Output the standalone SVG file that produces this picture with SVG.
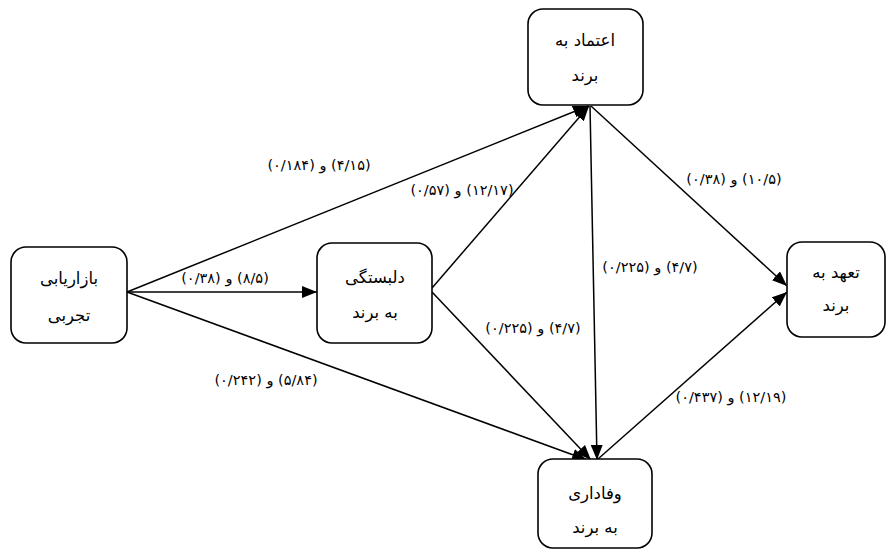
<svg xmlns="http://www.w3.org/2000/svg" width="892" height="551" viewBox="0 0 892 551">
<style>
.box{fill:#fff;stroke:#000;stroke-width:1.6}
.nt{font-family:"DejaVu Sans",sans-serif;font-size:16.5px;fill:#000;text-anchor:middle;direction:rtl}
.lb{font-family:"DejaVu Sans",sans-serif;font-size:14.5px;fill:#000;text-anchor:middle;direction:rtl}
.ln{stroke:#000;stroke-width:1.5;fill:none}
</style>
<defs>
<marker id="arr" markerUnits="userSpaceOnUse" markerWidth="15" markerHeight="12" refX="15" refY="6" orient="auto">
<path d="M0,0 L15,6 L0,12 z" fill="#000"/>
</marker>
</defs>
<rect width="892" height="551" fill="#fff"/>
<g id="connectors">
<line class="ln" x1="127" y1="292" x2="317" y2="292" marker-end="url(#arr)"/>
<line class="ln" x1="127" y1="292" x2="588" y2="106" marker-end="url(#arr)"/>
<line class="ln" x1="127" y1="292" x2="587" y2="460" marker-end="url(#arr)"/>
<line class="ln" x1="432" y1="288" x2="589" y2="106" marker-end="url(#arr)"/>
<line class="ln" x1="432" y1="292" x2="591" y2="460" marker-end="url(#arr)"/>
<line class="ln" x1="590" y1="106" x2="597" y2="460" marker-end="url(#arr)"/>
<line class="ln" x1="591" y1="106" x2="787" y2="286" marker-end="url(#arr)"/>
<line class="ln" x1="598" y1="459" x2="787" y2="292" marker-end="url(#arr)"/>
<text class="lb" x="319" y="170">(۴/۱۵) و (۰/۱۸۴)</text>
<text class="lb" x="462" y="195">(۱۲/۱۷) و (۰/۵۷)</text>
<text class="lb" x="225" y="283">(۸/۵) و (۰/۳۸)</text>
<text class="lb" x="266" y="385">(۵/۸۴) و (۰/۲۴۲)</text>
<text class="lb" x="734" y="184">(۱۰/۵) و (۰/۳۸)</text>
<text class="lb" x="650" y="272">(۴/۷) و (۰/۲۲۵)</text>
<text class="lb" x="533" y="333">(۴/۷) و (۰/۲۲۵)</text>
<text class="lb" x="731" y="402">(۱۲/۱۹) و (۰/۴۳۷)</text>
</g>
<g id="node-tajrobi">
<rect class="box" x="11" y="247" width="116" height="96" rx="15"/>
<text class="nt" x="69" y="284">بازاریابی</text>
<text class="nt" x="69" y="321">تجربی</text>
</g>
<g id="node-delbastegi">
<rect class="box" x="317" y="243" width="115" height="100" rx="15"/>
<text class="nt" x="375" y="283">دلبستگی</text>
<text class="nt" x="375" y="318">به برند</text>
</g>
<g id="node-etemad">
<rect class="box" x="528" y="9" width="115" height="96" rx="15"/>
<text class="nt" x="585" y="46">اعتماد به</text>
<text class="nt" x="585" y="81">برند</text>
</g>
<g id="node-tahod">
<rect class="box" x="787" y="242" width="98" height="95" rx="15"/>
<text class="nt" x="836" y="278">تعهد به</text>
<text class="nt" x="836" y="311">برند</text>
</g>
<g id="node-vafadari">
<rect class="box" x="538" y="459" width="114" height="89" rx="15"/>
<text class="nt" x="595" y="499">وفاداری</text>
<text class="nt" x="595" y="533">به برند</text>
</g>
</svg>
